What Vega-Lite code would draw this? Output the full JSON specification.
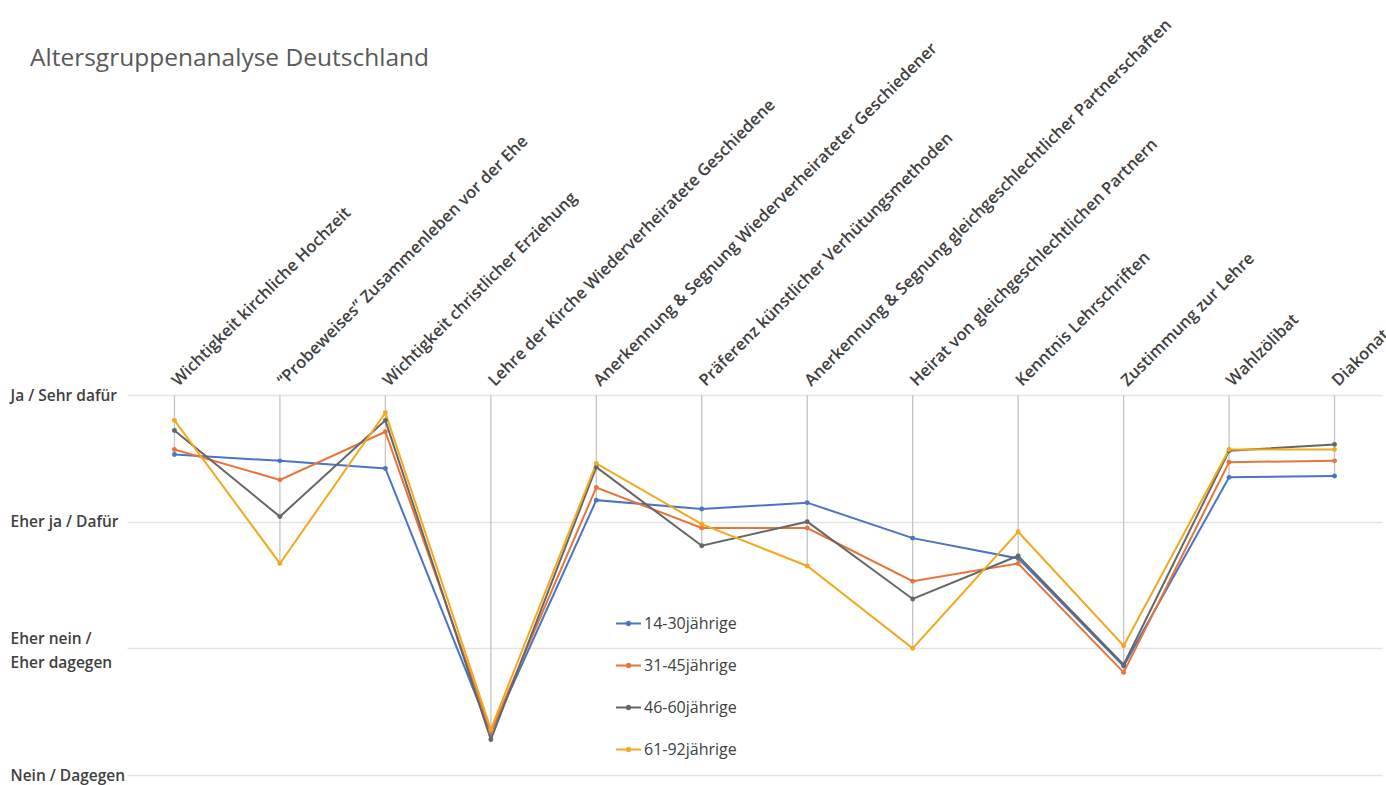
{
  "$schema": "https://vega.github.io/schema/vega-lite/v6.json",
  "autosize": "none",
  "width": 1255,
  "height": 380,
  "padding": {"left": 127, "top": 395, "right": 4, "bottom": 10},
  "background": "white",
  "title": {
    "text": "Altersgruppenanalyse Deutschland",
    "anchor": "start",
    "font": "Open Sans",
    "fontSize": 24.5,
    "fontWeight": "normal",
    "color": "#595959",
    "dx": 20,
    "dy": 59
  },
  "config": {
    "view": {"stroke": null},
    "font": "Open Sans"
  },
  "data": {
    "values": [
      {"cat": "Wichtigkeit kirchliche Hochzeit", "group": "14-30jährige", "value": 3.53},
      {"cat": "Wichtigkeit kirchliche Hochzeit", "group": "31-45jährige", "value": 3.57},
      {"cat": "Wichtigkeit kirchliche Hochzeit", "group": "46-60jährige", "value": 3.72},
      {"cat": "Wichtigkeit kirchliche Hochzeit", "group": "61-92jährige", "value": 3.80},
      {"cat": "“Probeweises” Zusammenleben vor der Ehe", "group": "14-30jährige", "value": 3.48},
      {"cat": "“Probeweises” Zusammenleben vor der Ehe", "group": "31-45jährige", "value": 3.33},
      {"cat": "“Probeweises” Zusammenleben vor der Ehe", "group": "46-60jährige", "value": 3.04},
      {"cat": "“Probeweises” Zusammenleben vor der Ehe", "group": "61-92jährige", "value": 2.67},
      {"cat": "Wichtigkeit christlicher Erziehung", "group": "14-30jährige", "value": 3.42},
      {"cat": "Wichtigkeit christlicher Erziehung", "group": "31-45jährige", "value": 3.71},
      {"cat": "Wichtigkeit christlicher Erziehung", "group": "46-60jährige", "value": 3.80},
      {"cat": "Wichtigkeit christlicher Erziehung", "group": "61-92jährige", "value": 3.86},
      {"cat": "Lehre der Kirche Wiederverheiratete Geschiedene", "group": "14-30jährige", "value": 1.33},
      {"cat": "Lehre der Kirche Wiederverheiratete Geschiedene", "group": "31-45jährige", "value": 1.34},
      {"cat": "Lehre der Kirche Wiederverheiratete Geschiedene", "group": "46-60jährige", "value": 1.28},
      {"cat": "Lehre der Kirche Wiederverheiratete Geschiedene", "group": "61-92jährige", "value": 1.36},
      {"cat": "Anerkennung & Segnung Wiederverheirateter Geschiedener", "group": "14-30jährige", "value": 3.17},
      {"cat": "Anerkennung & Segnung Wiederverheirateter Geschiedener", "group": "31-45jährige", "value": 3.27},
      {"cat": "Anerkennung & Segnung Wiederverheirateter Geschiedener", "group": "46-60jährige", "value": 3.43},
      {"cat": "Anerkennung & Segnung Wiederverheirateter Geschiedener", "group": "61-92jährige", "value": 3.46},
      {"cat": "Präferenz künstlicher Verhütungsmethoden", "group": "14-30jährige", "value": 3.10},
      {"cat": "Präferenz künstlicher Verhütungsmethoden", "group": "31-45jährige", "value": 2.95},
      {"cat": "Präferenz künstlicher Verhütungsmethoden", "group": "46-60jährige", "value": 2.81},
      {"cat": "Präferenz künstlicher Verhütungsmethoden", "group": "61-92jährige", "value": 2.98},
      {"cat": "Anerkennung & Segnung gleichgeschlechtlicher Partnerschaften", "group": "14-30jährige", "value": 3.15},
      {"cat": "Anerkennung & Segnung gleichgeschlechtlicher Partnerschaften", "group": "31-45jährige", "value": 2.95},
      {"cat": "Anerkennung & Segnung gleichgeschlechtlicher Partnerschaften", "group": "46-60jährige", "value": 3.00},
      {"cat": "Anerkennung & Segnung gleichgeschlechtlicher Partnerschaften", "group": "61-92jährige", "value": 2.65},
      {"cat": "Heirat von gleichgeschlechtlichen Partnern", "group": "14-30jährige", "value": 2.87},
      {"cat": "Heirat von gleichgeschlechtlichen Partnern", "group": "31-45jährige", "value": 2.53},
      {"cat": "Heirat von gleichgeschlechtlichen Partnern", "group": "46-60jährige", "value": 2.39},
      {"cat": "Heirat von gleichgeschlechtlichen Partnern", "group": "61-92jährige", "value": 2.00},
      {"cat": "Kenntnis Lehrschriften", "group": "14-30jährige", "value": 2.71},
      {"cat": "Kenntnis Lehrschriften", "group": "31-45jährige", "value": 2.67},
      {"cat": "Kenntnis Lehrschriften", "group": "46-60jährige", "value": 2.73},
      {"cat": "Kenntnis Lehrschriften", "group": "61-92jährige", "value": 2.92},
      {"cat": "Zustimmung zur Lehre", "group": "14-30jährige", "value": 1.86},
      {"cat": "Zustimmung zur Lehre", "group": "31-45jährige", "value": 1.81},
      {"cat": "Zustimmung zur Lehre", "group": "46-60jährige", "value": 1.87},
      {"cat": "Zustimmung zur Lehre", "group": "61-92jährige", "value": 2.02},
      {"cat": "Wahlzölibat", "group": "14-30jährige", "value": 3.35},
      {"cat": "Wahlzölibat", "group": "31-45jährige", "value": 3.47},
      {"cat": "Wahlzölibat", "group": "46-60jährige", "value": 3.56},
      {"cat": "Wahlzölibat", "group": "61-92jährige", "value": 3.57},
      {"cat": "Diakonat", "group": "14-30jährige", "value": 3.36},
      {"cat": "Diakonat", "group": "31-45jährige", "value": 3.48},
      {"cat": "Diakonat", "group": "46-60jährige", "value": 3.61},
      {"cat": "Diakonat", "group": "61-92jährige", "value": 3.57}
    ]
  },
  "encoding": {
    "x": {
      "field": "cat",
      "type": "nominal",
      "sort": null,
      "scale": {"type": "point", "padding": 0.45},
      "axis": {
        "orient": "top",
        "title": null,
        "labelAngle": -45,
        "labelAlign": "left",
        "labelBaseline": "middle",
        "labelPadding": 12,
        "labelFont": "Open Sans",
        "labelFontSize": 16.5,
        "labelFontWeight": 600,
        "labelColor": "#404040",
        "labelLimit": 800,
        "labelOverlap": false,
        "domain": false,
        "ticks": false,
        "grid": false
      }
    }
  },
  "layer": [
    {
      "transform": [
        {"aggregate": [{"op": "min", "field": "value", "as": "minv"}], "groupby": ["cat"]}
      ],
      "mark": {"type": "rule", "color": "#c4c4c4", "strokeWidth": 1.3},
      "encoding": {
        "y": {"field": "minv", "type": "quantitative"},
        "y2": {"datum": 4}
      }
    },
    {
      "mark": {"type": "line", "strokeWidth": 2},
      "encoding": {
        "y": {
          "field": "value",
          "type": "quantitative",
          "scale": {"domain": [1, 4], "nice": false, "zero": false},
          "axis": {
            "title": null,
            "values": [1, 2, 3, 4],
            "labelExpr": "datum.value == 4 ? 'Ja / Sehr dafür' : datum.value == 3 ? 'Eher ja / Dafür' : datum.value == 2 ? ['Eher nein /', 'Eher dagegen'] : 'Nein / Dagegen'",
            "labelAlign": "left",
            "labelBaseline": "middle",
            "labelOffset": {"expr": "datum.value == 2 ? -10 : 0"},
            "labelPadding": 117,
            "labelFont": "Open Sans",
            "labelFontSize": 15.5,
            "labelFontWeight": 600,
            "labelColor": "#404040",
            "labelLineHeight": 24,
            "labelLimit": 200,
            "domain": false,
            "ticks": false,
            "grid": true,
            "gridColor": "#e4e4e4",
            "gridWidth": 1.5
          }
        },
        "color": {
          "field": "group",
          "type": "nominal",
          "scale": {
            "domain": ["14-30jährige", "31-45jährige", "46-60jährige", "61-92jährige"],
            "range": ["#4A74C4", "#E9743A", "#666666", "#F2A91F"]
          },
          "legend": {
            "orient": "none",
            "legendX": 488,
            "legendY": 215,
            "title": null,
            "symbolType": "M-1,0H1M0.14,0A0.14,0.14 0 1,1 -0.14,0A0.14,0.14 0 1,1 0.14,0",
            "symbolSize": 625,
            "symbolStrokeWidth": 2,
            "labelFont": "Open Sans",
            "labelFontSize": 16,
            "labelColor": "#404040",
            "labelOffset": 2,
            "rowPadding": 20
          }
        }
      }
    },
    {
      "mark": {"type": "point", "filled": true, "size": 24, "opacity": 1},
      "encoding": {
        "y": {"field": "value", "type": "quantitative"},
        "color": {"field": "group", "type": "nominal", "legend": null}
      }
    }
  ]
}
